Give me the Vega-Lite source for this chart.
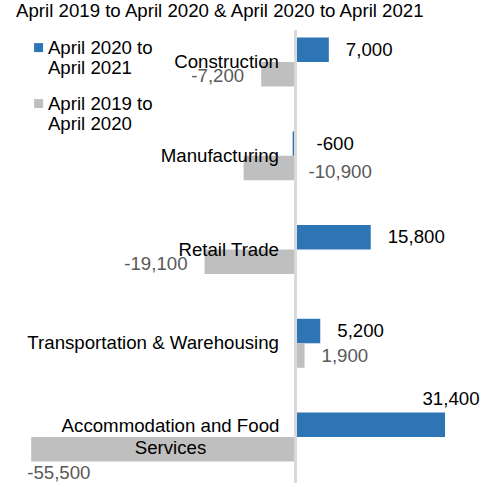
{
  "$schema": "https://vega.github.io/schema/vega-lite/v6.json",
  "width": 498,
  "height": 453,
  "autosize": {"type": "none"},
  "padding": {"top": 30, "left": 0, "right": 0, "bottom": 4},
  "background": "white",
  "title": {
    "text": "April 2019 to April 2020 & April 2020 to April 2021",
    "anchor": "start",
    "frame": "group",
    "font": "Liberation Sans",
    "fontSize": 18.67,
    "fontWeight": "normal",
    "color": "#000000",
    "dx": 16,
    "offset": 8
  },
  "config": {
    "view": {"stroke": null},
    "locale": {"number": {"decimal": ".", "thousands": ",", "grouping": [3], "currency": ["$", ""], "minus": "-"}},
    "text": {"font": "Liberation Sans", "fontSize": 18.67, "baseline": "middle"}
  },
  "data": {
    "values": [
      {"category": "Construction", "period": "April 2020 to April 2021", "value": 7000},
      {"category": "Construction", "period": "April 2019 to April 2020", "value": -7200},
      {"category": "Manufacturing", "period": "April 2020 to April 2021", "value": -600},
      {"category": "Manufacturing", "period": "April 2019 to April 2020", "value": -10900},
      {"category": "Retail Trade", "period": "April 2020 to April 2021", "value": 15800},
      {"category": "Retail Trade", "period": "April 2019 to April 2020", "value": -19100},
      {"category": "Transportation & Warehousing", "period": "April 2020 to April 2021", "value": 5200},
      {"category": "Transportation & Warehousing", "period": "April 2019 to April 2020", "value": 1900},
      {"category": "Accommodation and Food Services", "period": "April 2020 to April 2021", "value": 31400},
      {"category": "Accommodation and Food Services", "period": "April 2019 to April 2020", "value": -55500}
    ]
  },
  "encoding": {
    "y": {
      "field": "category",
      "type": "nominal",
      "sort": ["Construction", "Manufacturing", "Retail Trade", "Transportation & Warehousing", "Accommodation and Food Services"],
      "axis": null,
      "scale": {"paddingInner": 0.4773, "paddingOuter": 0.1547, "align": 0.26}
    }
  },
  "layer": [
    {
      "mark": {"type": "bar"},
      "encoding": {
        "x": {"field": "value", "type": "quantitative", "axis": null, "scale": {"domain": [-62055, 42525], "nice": false, "zero": false}},
        "yOffset": {"field": "period", "type": "nominal", "sort": ["April 2020 to April 2021", "April 2019 to April 2020"]},
        "color": {
          "field": "period",
          "type": "nominal",
          "sort": ["April 2020 to April 2021", "April 2019 to April 2020"],
          "scale": {"domain": ["April 2020 to April 2021", "April 2019 to April 2020"], "range": ["#2E75B6", "#BFBFBF"]},
          "legend": {
            "orient": "none",
            "legendX": 29.25,
            "legendY": 8.25,
            "title": null,
            "padding": 0,
            "symbolType": "square",
            "symbolSize": 81,
            "symbolStrokeWidth": 0,
            "labelFont": "Liberation Sans",
            "labelFontSize": 18.67,
            "labelColor": "#000000",
            "labelOffset": 0,
            "labelLimit": 0,
            "labelBaseline": "middle",
            "rowPadding": 16,
            "labelExpr": "[slice(datum.label, 0, 13), slice(datum.label, 14)]"
          }
        }
      }
    },
    {
      "mark": {"type": "rule", "color": "#D9D9D9", "strokeWidth": 2},
      "encoding": {"x": {"datum": 0, "type": "quantitative"}, "y": null}
    },
    {
      "transform": [{"filter": "datum.period === 'April 2020 to April 2021' && datum.category !== 'Accommodation and Food Services'"}],
      "mark": {"type": "text", "align": "right", "dx": -16.5, "color": "#000000"},
      "encoding": {"x": {"datum": 0, "type": "quantitative"}, "text": {"field": "category"}}
    },
    {
      "transform": [{"filter": "datum.period === 'April 2020 to April 2021' && datum.category === 'Accommodation and Food Services'"}],
      "mark": {"type": "text", "align": "center", "dx": -125, "dy": -11, "color": "#000000", "lineHeight": 22},
      "encoding": {"x": {"datum": 0, "type": "quantitative"}, "text": {"value": ["Accommodation and Food", "Services"]}}
    },
    {
      "transform": [{"filter": "datum.category !== 'Manufacturing' && datum.category !== 'Accommodation and Food Services' && datum.value > 0"}],
      "mark": {"type": "text", "align": "left", "dx": 17},
      "encoding": {
        "x": {"field": "value", "type": "quantitative"},
        "yOffset": {"field": "period", "type": "nominal", "sort": ["April 2020 to April 2021", "April 2019 to April 2020"]},
        "text": {"field": "value", "type": "quantitative", "format": ",d"},
        "color": {"condition": {"test": "datum.period === 'April 2020 to April 2021'", "value": "#000000"}, "value": "#595959"}
      }
    },
    {
      "transform": [{"filter": "datum.category !== 'Manufacturing' && datum.category !== 'Accommodation and Food Services' && datum.value < 0"}],
      "mark": {"type": "text", "align": "right", "dx": -17, "dy": 2},
      "encoding": {
        "x": {"field": "value", "type": "quantitative"},
        "yOffset": {"field": "period", "type": "nominal", "sort": ["April 2020 to April 2021", "April 2019 to April 2020"]},
        "text": {"field": "value", "type": "quantitative", "format": ",d"},
        "color": {"condition": {"test": "datum.period === 'April 2020 to April 2021'", "value": "#000000"}, "value": "#595959"}
      }
    },
    {
      "transform": [{"filter": "datum.category === 'Manufacturing' && datum.period === 'April 2020 to April 2021'"}],
      "mark": {"type": "text", "align": "left", "dx": 21, "color": "#000000"},
      "encoding": {
        "x": {"datum": 0, "type": "quantitative"},
        "yOffset": {"field": "period", "type": "nominal", "sort": ["April 2020 to April 2021", "April 2019 to April 2020"]},
        "text": {"field": "value", "type": "quantitative", "format": ",d"}
      }
    },
    {
      "transform": [{"filter": "datum.category === 'Manufacturing' && datum.period === 'April 2019 to April 2020'"}],
      "mark": {"type": "text", "align": "left", "dx": 13, "dy": 4, "color": "#595959"},
      "encoding": {
        "x": {"datum": 0, "type": "quantitative"},
        "yOffset": {"field": "period", "type": "nominal", "sort": ["April 2020 to April 2021", "April 2019 to April 2020"]},
        "text": {"field": "value", "type": "quantitative", "format": ",d"}
      }
    },
    {
      "transform": [{"filter": "datum.category === 'Accommodation and Food Services' && datum.period === 'April 2020 to April 2021'"}],
      "mark": {"type": "text", "align": "center", "dx": 6, "dy": -25.5, "color": "#000000"},
      "encoding": {
        "x": {"field": "value", "type": "quantitative"},
        "yOffset": {"field": "period", "type": "nominal", "sort": ["April 2020 to April 2021", "April 2019 to April 2020"]},
        "text": {"field": "value", "type": "quantitative", "format": ",d"}
      }
    },
    {
      "transform": [{"filter": "datum.category === 'Accommodation and Food Services' && datum.period === 'April 2019 to April 2020'"}],
      "mark": {"type": "text", "align": "left", "dx": -4, "dy": 24, "color": "#595959"},
      "encoding": {
        "x": {"field": "value", "type": "quantitative"},
        "yOffset": {"field": "period", "type": "nominal", "sort": ["April 2020 to April 2021", "April 2019 to April 2020"]},
        "text": {"field": "value", "type": "quantitative", "format": ",d"}
      }
    }
  ]
}
